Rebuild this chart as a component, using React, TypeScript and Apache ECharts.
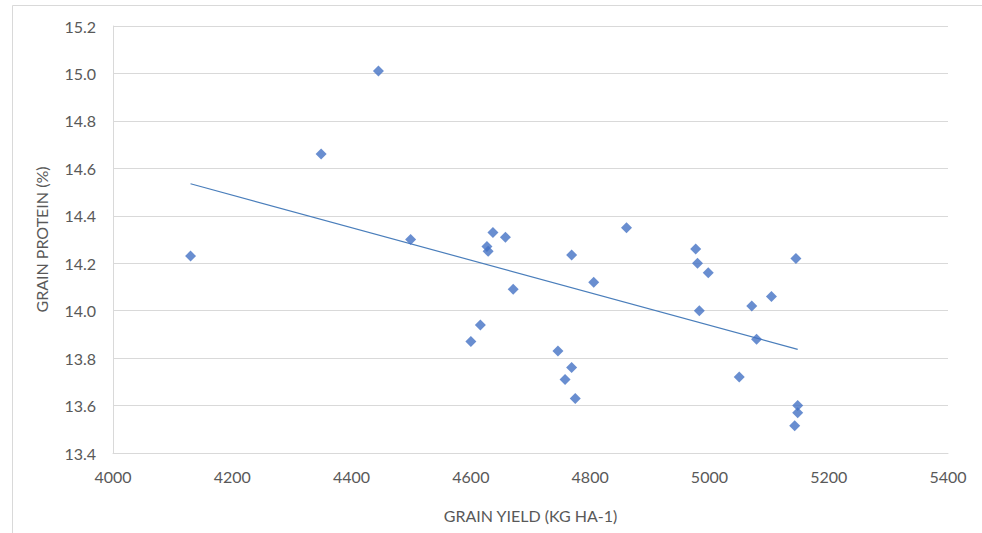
import React, { useEffect, useRef } from "react";
import * as echarts from "echarts";

const yieldKgHa: number[] = [
  4130, 4349, 4445, 4499, 4600, 4616, 4627, 4629, 4637, 4658,
  4671, 4746, 4758, 4769, 4769, 4775, 4806, 4861, 4977, 4980,
  4983, 4998, 5050, 5071, 5079, 5104, 5145, 5148, 5148, 5143,
];
const proteinPct: number[] = [
  14.23, 14.66, 15.01, 14.3, 13.87, 13.94, 14.27, 14.25, 14.33, 14.31,
  14.09, 13.83, 13.71, 13.76, 14.235, 13.63, 14.12, 14.35, 14.26, 14.2,
  14.0, 14.16, 13.72, 14.02, 13.88, 14.06, 14.22, 13.6, 13.57, 13.515,
];
const trendX: number[] = [4130, 5148];
const trendY: number[] = [14.535, 13.837];

const xTicks = { min: 4000, max: 5400, interval: 200 };
const yTicks = { min: 13.4, max: 15.2, interval: 0.2 };

const FONT = "Lato, 'Open Sans', sans-serif";

export default function App() {
  const ref = useRef<HTMLDivElement>(null);
  useEffect(() => {
    if (!ref.current) return;
    const chart = echarts.init(ref.current, undefined, { renderer: "svg" });
    const scatterData = yieldKgHa.map((x, i) => [x, proteinPct[i]]);
    const trendData = trendX.map((x, i) => [x, trendY[i]]);
    chart.setOption({
      animation: false,
      backgroundColor: "#ffffff",
      grid: { left: 113, right: 34, top: 26, bottom: 80 },
      graphic: [
        {
          type: "rect",
          shape: { x: 12.5, y: 5.5, width: 1000, height: 600 },
          style: { fill: "none", stroke: "#d9d9d9", lineWidth: 1 },
          silent: true,
        },
      ],
      xAxis: {
        type: "value",
        min: xTicks.min,
        max: xTicks.max,
        interval: xTicks.interval,
        name: "GRAIN YIELD (KG HA-1)",
        nameLocation: "middle",
        nameGap: 54,
        nameTextStyle: { color: "#595959", fontSize: 16, fontFamily: FONT },
        axisLine: { show: true, lineStyle: { color: "#d9d9d9" } },
        axisTick: { show: false },
        axisLabel: {
          color: "#595959",
          fontSize: 16,
          fontFamily: FONT,
          margin: 15,
          formatter: (v: number) => String(v),
        },
        splitLine: { show: false },
      },
      yAxis: {
        type: "value",
        min: yTicks.min,
        max: yTicks.max,
        interval: yTicks.interval,
        name: "GRAIN PROTEIN (%)",
        nameLocation: "middle",
        nameGap: 64,
        nameRotate: 90,
        nameTextStyle: { color: "#595959", fontSize: 16, fontFamily: FONT },
        axisLine: { show: true, lineStyle: { color: "#d9d9d9" } },
        axisTick: { show: false },
        axisLabel: {
          color: "#595959",
          fontSize: 16,
          fontFamily: FONT,
          margin: 17,
          formatter: (v: number) => v.toFixed(1),
        },
        splitLine: { show: true, lineStyle: { color: "#d9d9d9" } },
      },
      series: [
        {
          type: "line",
          data: trendData,
          symbol: "none",
          lineStyle: { color: "#4a7ebb", width: 1.2 },
          z: 2,
        },
        {
          type: "scatter",
          data: scatterData,
          symbol: "diamond",
          symbolSize: [11, 11],
          itemStyle: { color: "#4472c4" },
          z: 3,
        },
      ],
    });
    return () => chart.dispose();
  }, []);
  return (
    <div
      ref={ref}
      style={{ position: "absolute", left: 0, top: 0, width: 982, height: 533 }}
    />
  );
}
